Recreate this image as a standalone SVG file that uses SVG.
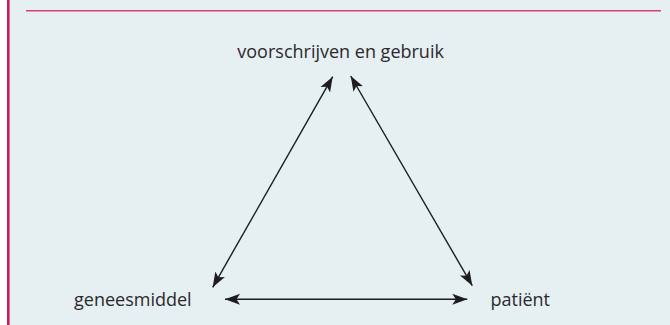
<svg xmlns="http://www.w3.org/2000/svg" width="670" height="325" viewBox="0 0 670 325">
  <style>
    .lbl { font-family: "Open Sans", "Liberation Sans", sans-serif; font-size: 18px; fill: #2b2a2b; }
    .conn { stroke: #1e1c1d; stroke-width: 1.4; fill: none; marker-start: url(#ah); marker-end: url(#ah); }
  </style>
  <defs>
    <marker id="ah" markerUnits="userSpaceOnUse" markerWidth="16" markerHeight="12" viewBox="0 0 16 12" refX="15" refY="6" orient="auto-start-reverse">
      <path d="M0,0.5 L15,6 L0,11.5 L3.5,6 Z" fill="#1e1c1d"/>
    </marker>
  </defs>
  <rect x="0" y="0" width="670" height="325" fill="#ffffff"/>
  <rect x="9" y="0" width="661" height="325" fill="#e6eff2"/>
  <rect x="7" y="0" width="2.6" height="325" fill="#cc1c56"/>
  <line x1="26" y1="10.8" x2="661" y2="10.8" stroke="#d9406c" stroke-width="1.6"/>

  <g id="connectors">
    <line class="conn" x1="332.7" y1="76.7" x2="212.7" y2="287.3"/>
    <line class="conn" x1="350.7" y1="76" x2="472.3" y2="285.7"/>
    <line class="conn" x1="225" y1="299.3" x2="467.3" y2="299.3"/>
  </g>

  <g id="node-voorschrijven">
    <text class="lbl" x="237.3" y="58">voorschrijven en gebruik</text>
  </g>
  <g id="node-geneesmiddel">
    <text class="lbl" x="74" y="306">geneesmiddel</text>
  </g>
  <g id="node-patient">
    <text class="lbl" x="490.5" y="305.5">patiënt</text>
  </g>
</svg>
